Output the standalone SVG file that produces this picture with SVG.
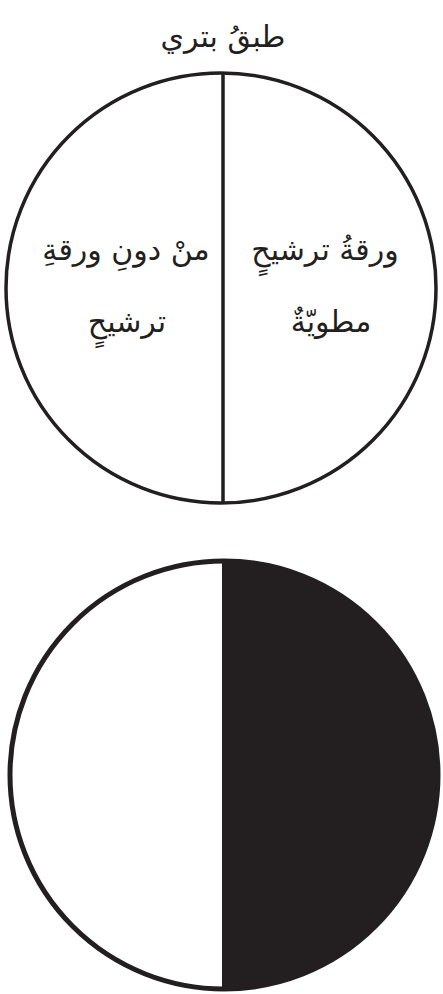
<svg xmlns="http://www.w3.org/2000/svg" width="443" height="994" viewBox="0 0 443 994">
<style>
.t{font-family:"DejaVu Sans","Noto Sans",sans-serif;font-size:30px;fill:#231f20;text-anchor:middle}
.ln{stroke:#231f20;stroke-width:3.5;fill:none}
</style>
<rect width="443" height="994" fill="#fff"/>
<g id="title"><text class="t" x="223" y="47">طبقُ بتري</text></g>
<g id="dish-top">
<circle class="ln" cx="221" cy="288" r="215" fill="#fff"/>
<line class="ln" x1="223" y1="74" x2="223" y2="502"/>
</g>
<g id="label-right">
<text class="t" x="325" y="260">ورقةُ ترشيحٍ</text>
<text class="t" x="331" y="332">مطويّةٌ</text>
</g>
<g id="label-left">
<text class="t" x="126" y="260">منْ دونِ ورقةِ</text>
<text class="t" x="127" y="332">ترشيحٍ</text>
</g>
<g id="dish-bottom">
<circle cx="224" cy="775" r="214" fill="#fff" stroke="#231f20" stroke-width="5"/>
<path d="M222 560 A215 215 0 0 1 222 990 Z" fill="#231f20"/>
</g>
<g id="connectors"/>
</svg>
